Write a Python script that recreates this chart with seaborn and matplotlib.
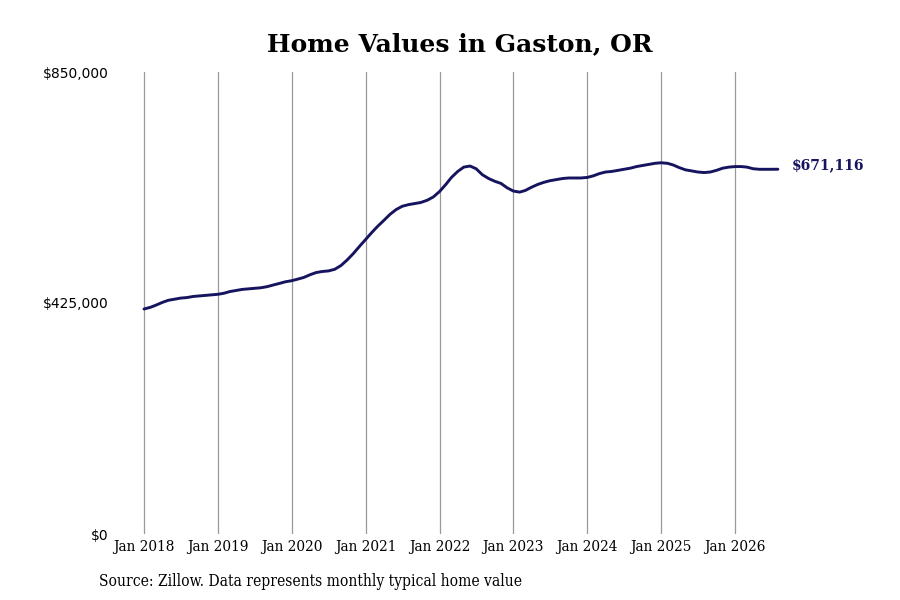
import matplotlib
matplotlib.use("Agg")
import matplotlib.pyplot as plt
import matplotlib.dates as mdates
import seaborn as sns
import pandas as pd
import numpy as np

# Monthly typical home value (thousands of $), Jan 2018 .. Aug 2026
values_2018 = [414, 417, 421, 426, 430, 432, 434, 435, 437, 438, 439, 440]
values_2019 = [441, 443, 446, 448, 450, 451, 452, 453, 455, 458, 461, 464]
values_2020 = [466, 469, 472, 477, 481, 483, 484, 487, 494, 504, 516, 529]
values_2021 = [542, 555, 566, 577, 588, 597, 603, 606, 608, 610, 614, 620]
values_2022 = [630, 643, 656, 667, 675, 677, 672, 661, 654, 649, 645, 637]
values_2023 = [631, 629, 632, 638, 643, 647, 650, 652, 654, 655, 655, 655]
values_2024 = [656, 659, 663, 666, 667, 669, 671, 673, 676, 678, 680, 682]
values_2025 = [683, 682, 679, 674, 670, 668, 666, 665, 666, 669, 673, 675]
values_2026 = [676, 676, 675, 672, 671, 671, 671, 671.116]

start_month = "2018-01-01"
tick_years = [2018, 2019, 2020, 2021, 2022, 2023, 2024, 2025, 2026]
y_ticks = [0, 425000, 850000]
y_tick_labels = ["$0", "$425,000", "$850,000"]
last_label = "$671,116"
title = "Home Values in Gaston, OR"
source = "Source: Zillow. Data represents monthly typical home value"

vals = (values_2018 + values_2019 + values_2020 + values_2021 + values_2022
        + values_2023 + values_2024 + values_2025 + values_2026)
dates = pd.date_range(start_month, periods=len(vals), freq="MS")
df = pd.DataFrame({"date": dates, "value": np.array(vals) * 1000})

sns.set_theme(style="white")
plt.rcParams["font.family"] = ["DejaVu Serif", "DejaVu Sans"]
plt.rcParams["text.color"] = "black"
plt.rcParams["xtick.color"] = "black"
plt.rcParams["ytick.color"] = "black"

fig = plt.figure(figsize=(9, 6), dpi=100)
# axes pixel box: left 118, right 780, top 72, bottom 534
ax = fig.add_axes([118 / 900, (600 - 534) / 600, (780 - 118) / 900, (534 - 72) / 600])

line_color = "#17145f"
sns.lineplot(data=df, x="date", y="value", ax=ax, color=line_color, linewidth=2.1)

d0 = mdates.date2num(pd.Timestamp("2018-01-01"))
d1 = mdates.date2num(pd.Timestamp("2026-01-01"))
ppd = (735 - 144) / (d1 - d0)
ax.set_xlim(d0 - (144 - 118) / ppd, d0 + (780 - 144) / ppd)
ax.set_ylim(0, 850000)

xt = [pd.Timestamp(f"{y}-01-01") for y in tick_years]
ax.set_xticks(xt)
ax.set_xticklabels([f"Jan {y}" for y in tick_years], family="DejaVu Serif",
                   stretch="condensed", fontsize=11, color="black")
ax.set_yticks(y_ticks)
ax.set_yticklabels(y_tick_labels, family="DejaVu Sans", fontsize=10, color="black")
ax.tick_params(axis="y", length=0, pad=7)
ax.tick_params(axis="x", length=0, pad=4)
ax.set_xlabel("")
ax.set_ylabel("")
for s in ax.spines.values():
    s.set_visible(False)
ax.grid(False)
for t in xt:
    ax.axvline(t, color="#999999", linewidth=0.9, zorder=0)

ax.annotate(last_label, xy=(df["date"].iloc[-1], df["value"].iloc[-1]),
            xytext=(9.7, 3), textcoords="offset points", ha="left", va="center",
            fontsize=10, fontweight="bold", color=line_color, family="DejaVu Serif")

fig.text(460 / 900, 1 - 44 / 600, title, ha="center", va="center",
         fontsize=18, fontweight="bold", family="DejaVu Serif", color="black")
fig.text(99 / 900, 1 - 582 / 600, source, ha="left", va="center",
         fontsize=11.2, family="DejaVu Serif", stretch="condensed", color="black")

fig.savefig("out.png", dpi=100)
